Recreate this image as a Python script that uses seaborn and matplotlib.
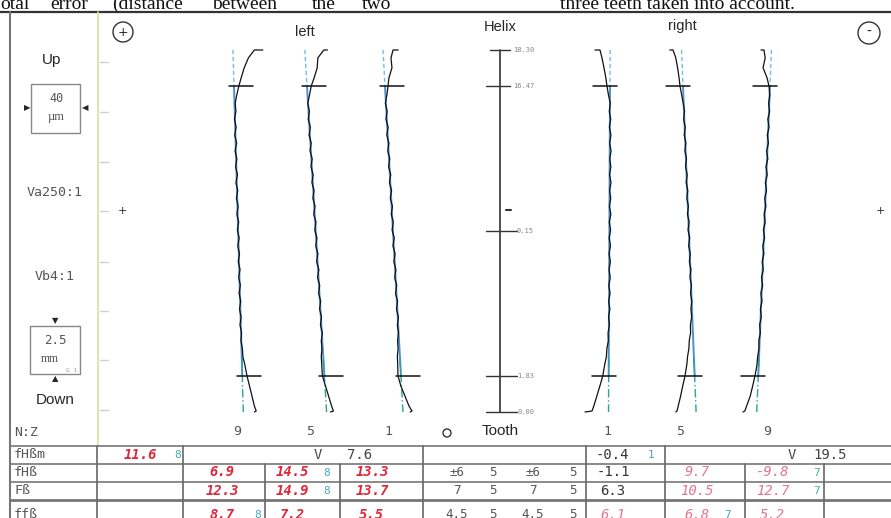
import matplotlib
matplotlib.use("Agg")
import matplotlib.pyplot as plt
from matplotlib.patches import Rectangle, Circle
import seaborn as sns

# -----------------------------
# Helix trace data
# -----------------------------

# height along face width (mm), top -> bottom, first two points = top hook
heights = [18.30, 18.30, 17.9, 17.4, 16.9, 16.47,
           16.0, 15.6, 15.2, 14.8, 14.4, 14.0, 13.6, 13.2, 12.8, 12.4,
           12.0, 11.6, 11.2, 10.8, 10.4, 10.0, 9.6, 9.2, 8.8, 8.4,
           8.0, 7.6, 7.2, 6.8, 6.4, 6.0, 5.6, 5.2, 4.8, 4.4,
           4.0, 3.6, 3.2, 2.8, 2.4,
           1.83, 1.3, 0.8, 0.3, 0.05, 0.0]

# deviations in micrometres
left_9 = [24, 17, 12, 8.5, 6, 4,
          2.2, 1.0, 1.6, 0.4, 1.8, 0.6, 2.2, 0.9, 2.4, 1.3,
          2.9, 1.6, 3.1, 2.0, 3.5, 2.4, 3.9, 2.8, 4.3, 3.1,
          4.6, 3.5, 5.0, 3.9, 5.3, 4.2, 5.6, 4.6, 5.9, 5.0,
          6.3, 5.8, 7.0, 7.4, 9.0,
          10.8, 13.0, 15.0, 17.0, 18.5, 17.0]
left_5 = [17, 14, 9, 8.5, 6, 3.5,
          2.0, 0.6, 2.0, 1.0, 2.8, 1.7, 3.5, 2.5, 4.3, 3.3,
          5.1, 4.1, 5.9, 4.9, 6.7, 5.6, 7.5, 6.5, 8.3, 7.3,
          9.1, 8.0, 9.9, 8.8, 10.6, 9.7, 11.4, 10.5, 12.1, 11.2,
          12.8, 11.9, 12.4, 11.9, 12.3,
          12.8, 15.5, 18.0, 20.5, 22.0, 19.5]
left_1 = [11, 6.7, 5, 5.8, 3.3, 2.5,
          1.5, 0.3, 1.8, 0.8, 2.6, 1.5, 3.3, 2.3, 4.0, 3.0,
          4.8, 3.7, 5.5, 4.4, 6.2, 5.2, 6.9, 5.9, 7.7, 6.6,
          8.4, 7.4, 9.1, 8.1, 9.8, 8.8, 10.5, 9.6, 11.2, 10.3,
          11.2, 10.5, 10.9, 10.3, 10.6,
          10.8, 13.3, 16.7, 20.0, 22.5, 21.0]
right_1 = [-12.5, -8.3, -6.7, -5.0, -3.5, -2.5,
           -1.2, 0.3, -0.6, 0.6, -0.5, 0.8, -0.3, 0.9, -0.2, 0.7,
           -0.4, 0.8, -0.3, 0.6, -0.5, 0.7, -0.6, 0.5, -0.7, 0.4,
           -0.8, 0.3, -0.8, 0.2, -1.0, 0.1, -1.1, -0.1, -1.2, -0.5,
           -1.6, -1.4, -2.6, -3.0, -4.4,
           -6.0, -8.5, -11.0, -13.5, -15.0, -20.8]
right_5 = [-11, -8.3, -6, -4.5, -3.3, -2.5,
           -1.0, 0.2, 1.3, 0.5, 1.9, 1.0, 2.4, 1.6, 2.9, 2.1,
           3.5, 2.6, 4.0, 3.2, 4.5, 3.7, 5.1, 4.2, 5.6, 4.7,
           6.1, 5.3, 6.6, 5.8, 7.1, 6.3, 7.4, 6.6, 7.2, 6.2,
           6.3, 5.2, 4.9, 3.8, 3.2,
           1.7, -0.3, -2.0, -4.0, -5.0, -6.0]
right_9 = [-7.5, -5.0, -4.0, -5.8, -2.5, -0.8,
           -0.2, -1.2, -0.3, -1.8, -0.8, -2.3, -1.3, -2.8, -1.8, -3.4,
           -2.3, -3.9, -2.9, -4.4, -3.4, -4.9, -4.0, -5.5, -4.5, -6.0,
           -5.1, -6.5, -5.6, -7.1, -6.1, -7.6, -6.7, -8.0, -7.3, -8.6,
           -8.0, -9.3, -9.2, -10.3, -10.8,
           -12.5, -14.5, -16.5, -19.5, -21.0, -22.5]

tooth_numbers = ["9", "5", "1", "1", "5", "9"]
flanks = ["left", "left", "left", "right", "right", "right"]
traces = [left_9, left_5, left_1, right_1, right_5, right_9]
fHb_slope = [6.9, 14.5, 13.3, -1.1, 9.7, -9.8]   # helix slope deviation per tooth (µm)

helix_ticks = [0.00, 1.83, 9.15, 16.47, 18.30]
eval_range = (1.83, 16.47)

# -----------------------------
# Table data
# -----------------------------

row_labels = ["fHßm", "fHß", "Fß", "ffß"]
left_fhbm, left_fhbm_q, left_var = "11.6", "8", "7.6"
right_fhbm, right_fhbm_q, right_var = "-0.4", "1", "19.5"
left_vals = [["6.9", "14.5", "13.3"], ["12.3", "14.9", "13.7"], ["8.7", "7.2", "5.5"]]
left_q = [["", "8", ""], ["", "8", ""], ["8", "", ""]]
right_vals = [["-1.1", "9.7", "-9.8"], ["6.3", "10.5", "12.7"], ["6.1", "6.8", "5.2"]]
right_q = [["", "", "7"], ["", "", "7"], ["", "7", ""]]
tolerances = [["±6", "5", "±6", "5"], ["7", "5", "7", "5"], ["4.5", "5", "4.5", "5"]]

# words of the (cut off) paper text above the figure
paper_words_left = ["otal", "error", "(distance", "between", "the", "two"]
paper_words_right = ["three teeth taken into account."]

# -----------------------------
# Layout (pixels)
# -----------------------------
W, H = 891, 518
col_px = [234, 307, 385, 610, 683, 770]
scale_px = 500
px_per_um = 1.2               # magnification of deviations
y0_px, ytop_px = 412, 50       # 0.00 mm and 18.30 mm
px_per_mm = (y0_px - ytop_px) / 18.30
chart_top, chart_bot = 12, 446

sns.set_theme(style="white")
plt.rcParams["font.family"] = ["DejaVu Sans"]

RED = "#e0283c"
PINK = "#e27592"
TEAL = "#4aa8b0"
GREY = "#555555"
MONO = "DejaVu Sans Mono"
SANS = "Liberation Sans"

fig = plt.figure(figsize=(W / 100, H / 100), dpi=100)
fig.patch.set_facecolor("white")

# page axes in pixel coordinates
pg = fig.add_axes([0, 0, 1, 1])
pg.set_xlim(0, W)
pg.set_ylim(H, 0)
pg.axis("off")

# cut-off text of the paper above the figure (justified line)
for x, w in zip([0, 50, 112, 212, 312, 362], paper_words_left):
    pg.text(x, 9, w, family="Liberation Serif", fontsize=14, va="baseline", ha="left", color="#111")
pg.text(560, 9, paper_words_right[0], family="Liberation Serif",
        fontsize=14, va="baseline", ha="left", color="#111")

pg.plot([0, W], [12, 12], color="#333", lw=1.6)
pg.plot([10, 10], [12, H], color="#777", lw=1.5)
pg.plot([98, 98], [12, 446], color="#d8e29a", lw=1.2)
for yy in [62, 112, 162, 211, 262, 311, 360, 410]:
    pg.plot([100, 108], [yy, yy], color="#d0d0d0", lw=1)

# left info column
pg.text(52, 60, "Up", family=SANS, fontsize=11, ha="center", va="center")
pg.add_patch(Rectangle((31, 84), 49, 49, fill=False, ec="#888", lw=1))
pg.text(56, 99, "40", family=MONO, fontsize=8.5, ha="center", va="center", color=GREY)
pg.text(56, 117, "µm", family="Liberation Serif", fontsize=9, ha="center", va="center", color=GREY)
pg.text(27, 108, "▶", fontsize=6, ha="center", va="center")
pg.text(85, 108, "◀", fontsize=6, ha="center", va="center")
pg.text(55, 193, "Va250:1", family=MONO, fontsize=9.5, ha="center", va="center", color=GREY)
pg.text(55, 277, "Vb4:1", family=MONO, fontsize=9.5, ha="center", va="center", color=GREY)
pg.add_patch(Rectangle((30, 326), 50, 48, fill=False, ec="#888", lw=1))
pg.text(55, 341, "2.5", family=MONO, fontsize=9, ha="center", va="center", color=GREY)
pg.text(50, 359, "mm", family="Liberation Serif", fontsize=8.5, ha="center", va="center", color=GREY)
pg.text(72, 370, "G 1", family=MONO, fontsize=4.5, ha="center", va="center", color="#999")
pg.text(55, 321, "▼", fontsize=6, ha="center", va="center")
pg.text(55, 379, "▲", fontsize=6, ha="center", va="center")
pg.text(55, 400, "Down", family=SANS, fontsize=11, ha="center", va="center")

# headers
pg.add_patch(Circle((123, 32), 10, fill=False, ec="#333", lw=1))
pg.text(123, 32, "+", fontsize=9, ha="center", va="center")
pg.add_patch(Circle((869, 33), 11, fill=False, ec="#333", lw=1))
pg.text(869, 32, "-", fontsize=10, ha="center", va="center")
pg.text(305, 32, "left", family=SANS, fontsize=10.5, ha="center", va="center")
pg.text(500, 27, "Helix", family=SANS, fontsize=10.5, ha="center", va="center")
pg.text(682, 26, "right", family=SANS, fontsize=10.5, ha="center", va="center")
pg.text(122, 211, "+", fontsize=8, ha="center", va="center")
pg.text(880, 211, "+", fontsize=8, ha="center", va="center")

# -----------------------------
# Chart axes: heights in mm, x in pixels
# -----------------------------
ax = fig.add_axes([98 / W, (H - chart_bot) / H, (W - 98) / W, (chart_bot - chart_top) / H])
ax.set_xlim(98, W)
ax.set_ylim(-(chart_bot - y0_px) / px_per_mm, (y0_px - chart_top) / px_per_mm)
ax.axis("off")
ax.patch.set_alpha(0)

lo, hi = eval_range
for col, trace, slope, flank, num in zip(col_px, traces, fHb_slope, flanks, tooth_numbers):
    def mean_x(h):
        return col + px_per_um * slope * (hi - h) / (hi - lo)
    # mean line: dashed above, solid inside, dash-dot below evaluation range
    ax.plot([mean_x(18.30), mean_x(hi)], [18.30, hi], color="#6cc0e8", lw=1, ls=(0, (3, 2)))
    ax.plot([mean_x(hi), mean_x(lo)], [hi, lo], color="#2f7ec4", lw=1.4, alpha=0.85)
    ax.plot([mean_x(2.7), mean_x(0.0)], [2.7, 0.0], color="#2aa39a", lw=1, ls=(0, (6, 2, 1, 2)))
    xs = [col + px_per_um * d for d in trace]
    sns.lineplot(x=xs, y=heights, sort=False, estimator=None, color="#111", lw=0.9, ax=ax)
    # evaluation range marks
    off = (-5, 19) if flank == "left" else (-17, 7)
    for h in eval_range:
        ax.plot([mean_x(h) + off[0], mean_x(h) + off[1]], [h, h], color="#111", lw=1.1)
    lab_off = 3 if flank == "left" else -3
    ax.text(col + lab_off, -1.0, num, family=MONO, fontsize=9.5, ha="center", va="center", color=GREY)

# helix height scale
ax.plot([scale_px, scale_px], [min(helix_ticks), max(helix_ticks)], color="#333", lw=1.2)
for h in helix_ticks:
    short = h in (18.30, 16.47)
    x1 = scale_px + (10 if short else 17)
    ax.plot([scale_px - 14 if h != 18.30 else scale_px - 10, x1], [h, h], color="#333", lw=1)
    ax.text(x1 + (3 if short else 0), h, f"{h:.2f}", family=MONO, fontsize=5, color="#888",
            ha="left", va="center")
ax.plot([scale_px + 6, scale_px + 11], [10.20, 10.20], color="#333", lw=1.5)
pg.text(14, 433, "N:Z", family=MONO, fontsize=9.5, ha="left", va="center", color=GREY)
pg.add_patch(Circle((447, 433), 4, fill=False, ec="#333", lw=1))
pg.text(500, 431, "Tooth", family=SANS, fontsize=11, ha="center", va="center")

# -----------------------------
# Result table
# -----------------------------
row_y = [455, 472.5, 491, 515]
for yy, lw in zip([446, 464, 482, 500], [1.2, 1.2, 1.2, 2.0]):
    pg.plot([10, W], [yy, yy], color="#777", lw=lw)
for xx in [97, 183, 423, 586, 665]:
    pg.plot([xx, xx], [446, H], color="#666", lw=1.2)
for xx in [265, 340, 745, 824]:
    pg.plot([xx, xx], [464, H], color="#666", lw=1.2)

for yy, lab in zip(row_y, row_labels):
    pg.text(14, yy, lab, family=MONO, fontsize=9.5, ha="left", va="center", color=GREY)


def val(x, y, s, color, weight="normal", style="normal", size=10):
    pg.text(x, y, s, family=MONO, fontsize=size, ha="center", va="center",
            color=color, weight=weight, style=style)


# fHßm row
val(140, row_y[0], left_fhbm, RED, "bold", "italic")
val(178, row_y[0], left_fhbm_q, TEAL, size=8)
val(318, row_y[0], "V", "#444")
val(360, row_y[0], left_var, "#444")
val(612, row_y[0], right_fhbm, "#333")
val(651, row_y[0], right_fhbm_q, TEAL, size=8)
val(792, row_y[0], "V", "#444")
val(830, row_y[0], right_var, "#444")

left_x = [222, 292, 372]
left_qx = [258, 327, 400]
right_x = [613, 697, 773]
right_qx = [650, 728, 817]
tol_x = [457, 493, 533, 573]
for r in range(3):
    yy = row_y[r + 1]
    for c in range(3):
        val(left_x[c], yy, left_vals[r][c], RED, "bold", "italic")
        if left_q[r][c]:
            val(left_qx[c], yy, left_q[r][c], TEAL, size=8)
        if c == 0:
            col_c = PINK if r == 2 else "#333"
            val(right_x[c], yy, right_vals[r][c], col_c, style="italic" if r == 2 else "normal")
        else:
            val(right_x[c], yy, right_vals[r][c], PINK, style="italic")
        if right_q[r][c]:
            val(right_qx[c], yy, right_q[r][c], TEAL, size=8)
    for c in range(4):
        val(tol_x[c], yy, tolerances[r][c], GREY, size=9)

fig.savefig("out.png", dpi=100, facecolor="white")
